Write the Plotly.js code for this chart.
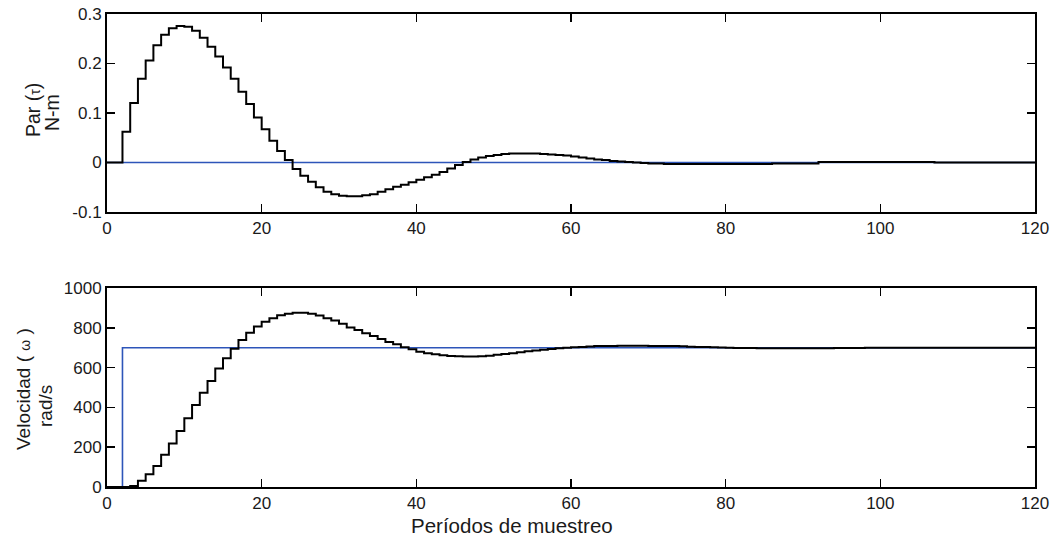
<!DOCTYPE html>
<html><head><meta charset="utf-8">
<script src="https://cdn.plot.ly/plotly-3.0.1.min.js"></script>
<style>html,body{margin:0;padding:0;background:#fff}#chart{width:1055px;height:536px}</style>
</head><body><div id="chart"></div>
<script>
// sampling periods k = 0..120
const periods = [];
for (let k = 0; k <= 120; k++) periods.push(k);

// Torque (N-m), one value per sampling period
const torque = [
  0, 0, 0.062, 0.120, 0.169, 0.206, 0.237, 0.258, 0.271, 0.276,
  0.274, 0.266, 0.252, 0.234, 0.214, 0.192, 0.169, 0.143, 0.118, 0.091,
  0.067, 0.044, 0.023, 0.005, -0.013, -0.027, -0.039, -0.050, -0.059, -0.064,
  -0.067, -0.068, -0.068, -0.066, -0.064, -0.059, -0.054, -0.049, -0.045, -0.040,
  -0.035, -0.030, -0.025, -0.019, -0.012, -0.005, 0.001, 0.006, 0.010, 0.013,
  0.015, 0.017, 0.018, 0.018, 0.018, 0.018, 0.017, 0.016, 0.015, 0.014,
  0.012, 0.010, 0.008, 0.006, 0.005, 0.003, 0.002, 0.001, 0.000, -0.001,
  -0.002, -0.002, -0.003, -0.003, -0.003, -0.003, -0.003, -0.003, -0.003, -0.003,
  -0.003, -0.003, -0.003, -0.003, -0.003, -0.003, -0.002, -0.002, -0.002, -0.002,
  -0.002, -0.002, 0.001, 0.001, 0.001, 0.001, 0.001, 0.001, 0.001, 0.001,
  0.001, 0.001, 0.001, 0.001, 0.001, 0.001, 0.001, 0, 0, 0,
  0, 0, 0, 0, 0, 0, 0, 0, 0, 0,
  0
];

// Velocity (rad/s), one value per sampling period
const velocity = [
  0, 0, 0, 5, 32, 64, 105, 162, 219, 281,
  345, 412, 474, 533, 596, 647, 695, 739, 775, 806,
  831, 848, 863, 871, 876, 876, 870, 862, 848, 837,
  820, 802, 789, 772, 759, 744, 729, 717, 702, 692,
  680, 672, 667, 662, 658, 657, 656, 656, 657, 660,
  664, 668, 672, 677, 682, 686, 690, 694, 697, 700,
  702, 704, 706, 708, 709, 709, 710, 710, 710, 710,
  709, 709, 709, 708, 707, 705, 704, 703, 702, 701,
  700, 699, 698, 698, 697, 697, 697, 697, 697, 697,
  697, 697, 697, 697, 698, 698, 698, 699, 700, 700,
  700, 700, 700, 700, 700, 700, 700, 700, 700, 700,
  700, 700, 700, 700, 700, 700, 700, 700, 700, 700,
  700
];

// references
const torqueRefX = [0, 120];
const torqueRef = [0, 0];
const velRefX = [0, 2, 120];
const velRef = [0, 700, 700];

// ticks
const xTicks = [0, 20, 40, 60, 80, 100, 120];
const xTickText = ['0', '20', '40', '60', '80', '100', '120'];
const torqueTicks = [-0.1, 0, 0.1, 0.2, 0.3];
const torqueTickText = ['-0.1', '0', '0.1', '0.2', '0.3'];
const velTicks = [0, 200, 400, 600, 800, 1000];
const velTickText = ['0', '200', '400', '600', '800', '1000'];

const FONT = 'Liberation Sans, Arial, sans-serif';
const TXT = '#1a1a1a';
const BLUE = 'rgb(45,85,185)';

const traces = [
  {x: torqueRefX, y: torqueRef, xaxis: 'x', yaxis: 'y', mode: 'lines',
   line: {color: BLUE, width: 1.6, shape: 'hv'}, hoverinfo: 'skip'},
  {x: periods, y: torque, xaxis: 'x', yaxis: 'y', mode: 'lines',
   line: {color: '#000', width: 2, shape: 'hv'}},
  {x: velRefX, y: velRef, xaxis: 'x2', yaxis: 'y2', mode: 'lines',
   line: {color: BLUE, width: 1.6, shape: 'hv'}, hoverinfo: 'skip'},
  {x: periods, y: velocity, xaxis: 'x2', yaxis: 'y2', mode: 'lines',
   line: {color: '#000', width: 2, shape: 'hv'}}
];

function xax(anchor) {
  return {
    domain: [0, 1], anchor: anchor, range: [0, 120],
    tickmode: 'array', tickvals: xTicks, ticktext: xTickText,
    ticks: 'inside', ticklen: 8, tickwidth: 1.5, tickcolor: '#000',
    showline: true, linecolor: '#000', linewidth: 2, mirror: 'ticks',
    showgrid: false, zeroline: false,
    tickfont: {family: FONT, size: 17, color: TXT}
  };
}
function yax(anchor, domain, range, vals, text) {
  return {
    domain: domain, anchor: anchor, range: range,
    tickmode: 'array', tickvals: vals, ticktext: text,
    ticks: 'inside', ticklen: 8, tickwidth: 1.5, tickcolor: '#000',
    showline: true, linecolor: '#000', linewidth: 2, mirror: 'ticks',
    showgrid: false, zeroline: false,
    tickfont: {family: FONT, size: 17, color: TXT}
  };
}

const L = 107, R = 20, T = 14, B = 49, W = 1055, H = 536;
const pw = W - L - R, ph = H - T - B;
const px = v => (v - L) / pw;
const py = v => (H - B - v) / ph;

function ann(text, x, y, angle, size) {
  return {text: text, xref: 'paper', yref: 'paper', x: px(x), y: py(y),
    xanchor: 'center', yanchor: 'middle', showarrow: false, textangle: angle,
    font: {family: FONT, size: size, color: TXT}};
}

const layout = {
  width: W, height: H,
  margin: {l: L, r: R, t: T, b: B},
  paper_bgcolor: '#fff', plot_bgcolor: '#fff',
  showlegend: false,
  xaxis: xax('y'),
  yaxis: yax('x', [py(212), 1], [-0.1, 0.3], torqueTicks, torqueTickText),
  xaxis2: xax('y2'),
  yaxis2: yax('x2', [0, py(288)], [0, 1000], velTicks, velTickText),
  annotations: [
    ann('Par (<span style="font-size:14px">τ</span>)', 33, 110, -90, 19.5),
    ann('N-m', 52, 113, -90, 19.5),
    ann('Velocidad ( <span style="font-size:14px">ω</span> )', 23, 389, -90, 19),
    ann('rad/s', 45, 406, -90, 19),
    ann('Períodos de muestreo', 512, 525, 0, 20.5)
  ]
};

Plotly.newPlot('chart', traces, layout, {staticPlot: true, displayModeBar: false});
</script>
</body></html>
